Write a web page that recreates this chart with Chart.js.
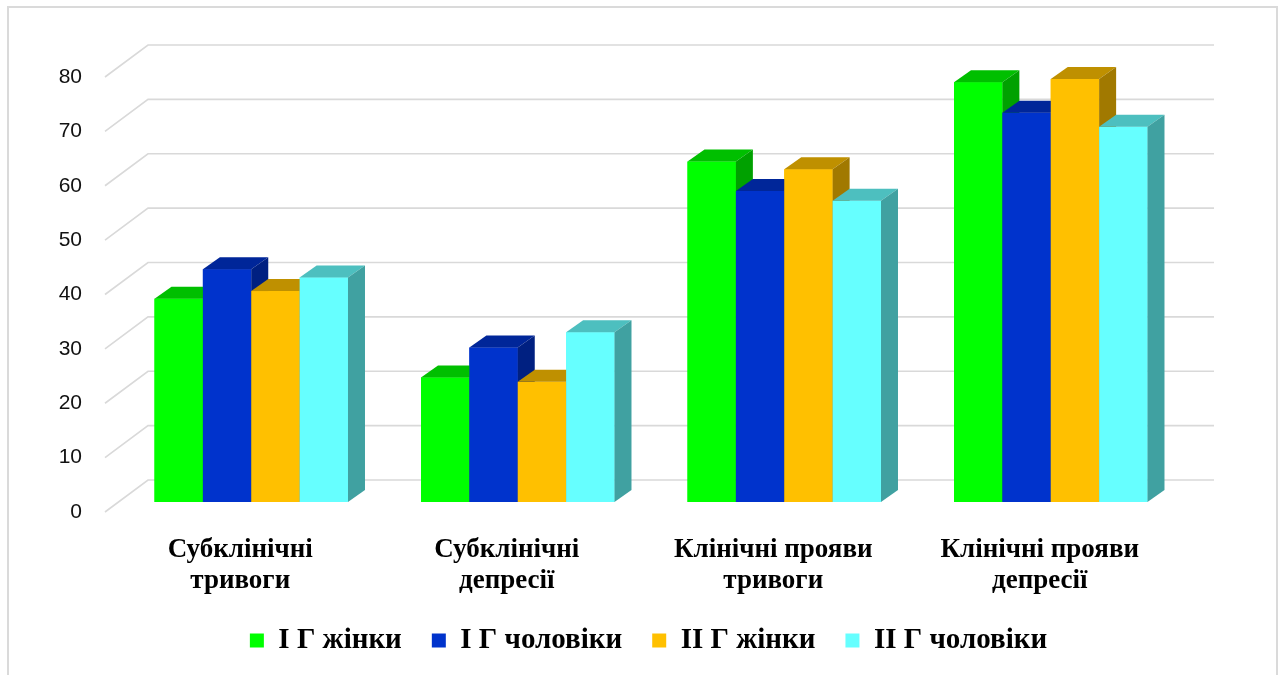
<!DOCTYPE html>
<html>
<head>
<meta charset="utf-8">
<title>Тривоги та депресії</title>
<script src="https://cdn.jsdelivr.net/npm/chart.js@4.4.1/dist/chart.umd.min.js"></script>
<style>
  html, body { margin: 0; padding: 0; background: #fff; }
  #wrap { position: relative; width: 1279px; height: 675px; overflow: hidden; }
  #frame { position: absolute; left: 7px; top: 6px; width: 1271px; height: 720px;
           border: 2px solid #dadada; box-sizing: border-box; }
  #chart { position: absolute; left: 0; top: 0; }
</style>
</head>
<body>
<div id="wrap">
  <div id="frame"></div>
  <canvas id="chart" width="1279" height="675"></canvas>
</div>
<script>
// categories (two-line axis labels)
const categories = [
    ['Субклінічні', 'тривоги'],
    ['Субклінічні', 'депресії'],
    ['Клінічні прояви', 'тривоги'],
    ['Клінічні прояви', 'депресії']
];
const seriesNames = ['І Г жінки', 'І Г чоловіки', 'ІІ Г жінки', 'ІІ Г чоловіки'];

// values, %
const group1Women = [37.4, 22.9, 62.6, 77.2];
const group1Men   = [42.8, 28.4, 57.2, 71.6];
const group2Women = [38.8, 22.1, 61.2, 77.8];
const group2Men   = [41.3, 31.2, 55.4, 69.0];

const yTicks = [0, 10, 20, 30, 40, 50, 60, 70, 80];

const seriesColors = ['#00ff00', '#0033cc', '#ffc000', '#66ffff'];

// pseudo-3D geometry
const BAR_DX = 17, BAR_DY = 12;        // bar depth
const FLOOR_DX = -13, FLOOR_DY = 10;   // front edge of the floor
const WALL_DX = 30, WALL_DY = -22;     // back wall

function shade(hex, f) {
    const n = parseInt(hex.slice(1), 16);
    const r = Math.round(((n >> 16) & 255) * f);
    const g = Math.round(((n >> 8) & 255) * f);
    const b = Math.round((n & 255) * f);
    return `rgb(${r}, ${g}, ${b})`;
}

// gridlines: diagonal on the side wall, then along the back wall
const wallGrid = {
    id: 'wallGrid',
    beforeDatasetsDraw(chart) {
        const { ctx, chartArea } = chart;
        const y = chart.scales.y;
        ctx.save();
        ctx.strokeStyle = '#d9d9d9';
        ctx.lineWidth = 1.6;
        yTicks.forEach(v => {
            const py = y.getPixelForValue(v);
            ctx.beginPath();
            ctx.moveTo(chartArea.left + FLOOR_DX, py + FLOOR_DY);
            ctx.lineTo(chartArea.left + WALL_DX, py + WALL_DY);
            ctx.lineTo(chartArea.right + WALL_DX, py + WALL_DY);
            ctx.stroke();
        });
        ctx.restore();
    }
};

// boxes: front, top and right side, left to right so neighbours overlap properly
const boxBars = {
    id: 'boxBars',
    afterDatasetsDraw(chart) {
        const { ctx } = chart;
        ctx.save();
        for (let i = 0; i < categories.length; i++) {
            chart.data.datasets.forEach((ds, d) => {
                const el = chart.getDatasetMeta(d).data[i];
                const left = el.x - el.width / 2;
                const right = el.x + el.width / 2;
                const top = el.y, base = el.base;
                const col = seriesColors[d];

                ctx.fillStyle = col;
                ctx.fillRect(left, top, right - left, base - top);

                ctx.fillStyle = shade(col, 0.75);
                ctx.beginPath();
                ctx.moveTo(left, top);
                ctx.lineTo(left + BAR_DX, top - BAR_DY);
                ctx.lineTo(right + BAR_DX, top - BAR_DY);
                ctx.lineTo(right, top);
                ctx.closePath();
                ctx.fill();

                ctx.fillStyle = shade(col, 0.63);
                ctx.beginPath();
                ctx.moveTo(right, top);
                ctx.lineTo(right + BAR_DX, top - BAR_DY);
                ctx.lineTo(right + BAR_DX, base - BAR_DY);
                ctx.lineTo(right, base);
                ctx.closePath();
                ctx.fill();
            });
        }
        ctx.restore();
    }
};

const values = [group1Women, group1Men, group2Women, group2Men];

new Chart(document.getElementById('chart'), {
    type: 'bar',
    data: {
        labels: categories,
        datasets: values.map((arr, k) => ({
            label: seriesNames[k],
            data: arr,
            backgroundColor: seriesColors[k],
            borderColor: seriesColors[k],
            borderWidth: 0,
            categoryPercentage: 0.726,
            barPercentage: 1.0
        }))
    },
    options: {
        responsive: false,
        animation: false,
        devicePixelRatio: 1,
        layout: { padding: { left: 18, right: 0, top: 67, bottom: 10 } },
        plugins: {
            tooltip: { enabled: false },
            legend: {
                position: 'bottom',
                labels: {
                    boxWidth: 14,
                    boxHeight: 14,
                    padding: 30,
                    color: '#000',
                    font: { family: 'Liberation Serif', size: 29, weight: 'bold' }
                }
            }
        },
        scales: {
            x: {
                grid: { display: false, drawTicks: false },
                border: { display: false },
                ticks: {
                    color: '#000',
                    padding: 33,
                    labelOffset: -11,
                    maxRotation: 0,
                    autoSkip: false,
                    font: { family: 'Liberation Serif', size: 27, weight: 'bold', lineHeight: 1.14 }
                },
                afterFit: s => { s.height = 94; }
            },
            y: {
                min: 0,
                max: 80,
                grid: { display: false, drawTicks: false },
                border: { display: false },
                ticks: {
                    stepSize: 10,
                    color: '#111',
                    padding: 36,
                    labelOffset: 10,
                    font: { family: 'Liberation Sans', size: 21 }
                },
                afterFit: s => { s.width = 100; }
            },
            // empty strip on the right so the legend sits centred under the wall
            spacer: {
                type: 'linear',
                position: 'right',
                grid: { display: false, drawTicks: false },
                border: { display: false },
                ticks: { display: false },
                afterFit: s => { s.width = 95; }
            }
        }
    },
    plugins: [wallGrid, boxBars]
});
</script>
</body>
</html>
